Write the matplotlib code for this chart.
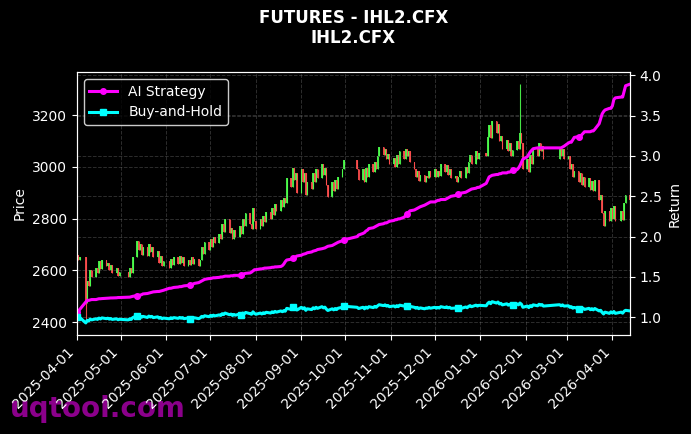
import numpy as np
import pandas as pd
import matplotlib
matplotlib.use('Agg')
import matplotlib.pyplot as plt
import matplotlib.dates as mdates

# trading calendar (CFFEX), 2025-04-01 .. 2026-04-13
holidays = ['2025-04-04', '2025-05-01', '2025-05-02', '2025-05-05', '2025-06-02',
            '2025-10-01', '2025-10-02', '2025-10-03', '2025-10-06', '2025-10-07',
            '2025-10-08', '2026-01-01', '2026-01-02', '2026-02-16', '2026-02-17',
            '2026-02-18', '2026-02-19', '2026-02-20', '2026-02-23', '2026-04-06']
dates = pd.bdate_range('2025-04-01', '2026-04-13', freq='C', holidays=holidays)

# daily closes, month by month
close_apr25 = [2660, 2640, 2650, 2475, 2560, 2540, 2600, 2575, 2610, 2590, 2635, 2605, 2640, 2615, 2630, 2600, 2620, 2590, 2610, 2580, 2595]
close_may25 = [2575, 2610, 2590, 2650, 2715, 2680, 2700, 2660, 2690, 2655, 2700, 2670, 2690, 2650, 2675, 2630, 2655, 2615, 2635]
close_jun25 = [2610, 2645, 2620, 2650, 2625, 2655, 2630, 2650, 2615, 2640, 2620, 2650, 2625, 2645, 2615, 2640, 2690, 2665, 2710, 2680]
close_jul25 = [2720, 2690, 2730, 2705, 2740, 2720, 2780, 2750, 2800, 2745, 2765, 2720, 2755, 2730, 2770, 2740, 2800, 2770, 2820, 2780, 2760, 2840, 2790]
close_aug25 = [2760, 2800, 2770, 2810, 2785, 2825, 2800, 2840, 2815, 2855, 2830, 2870, 2845, 2880, 2860, 2955, 2920, 2995, 2950, 2975, 2900]
close_sep25 = [2990, 2940, 2975, 2890, 2940, 2915, 2975, 2940, 2990, 2955, 3010, 2970, 2995, 2930, 2885, 2940, 2905, 2950, 2915, 2960, 2990, 3025]
close_oct25 = [2990, 2950, 2990, 2940, 2995, 2960, 3010, 2980, 3020, 2990, 3040, 3075, 3045, 3070, 3030, 3050, 3010]
close_nov25 = [3035, 3000, 3045, 3010, 3060, 3030, 3070, 3040, 3060, 3020, 2990, 2960, 2985, 2945, 2970, 2940, 2965, 2955, 2985, 2960]
close_dec25 = [2990, 2960, 2985, 2965, 3010, 2980, 3005, 2970, 2990, 2955, 2965, 2940, 2960, 2985, 2955, 3000, 2975, 3020, 3045, 3010, 3060, 3030, 3055]
close_jan26 = [3040, 3115, 3160, 3110, 3175, 3130, 3165, 3100, 3120, 3070, 3105, 3060, 3090, 3040, 3065, 3100, 3070, 3130, 3090, 2990]
close_feb26 = [3030, 2980, 3045, 3010, 3070, 3040, 3090, 3060, 3080, 3030, 3075, 3040, 3070, 3030]
close_mar26 = [3040, 2990, 3010, 2960, 2985, 2940, 2975, 2930, 2960, 2920, 2955, 2910, 2945, 2905, 2950, 2870, 2890, 2820, 2770, 2830, 2790, 2840]
close_apr26 = [2800, 2850, 2790, 2830, 2795, 2860, 2890, 2870]

# AI strategy cumulative return, month by month
ai_apr25 = [1.07, 1.08, 1.10, 1.19, 1.21, 1.21, 1.215, 1.22, 1.22, 1.225, 1.23, 1.23, 1.232, 1.235, 1.235, 1.238, 1.24, 1.24, 1.242, 1.245, 1.245]
ai_may25 = [1.25, 1.25, 1.255, 1.26, 1.27, 1.27, 1.275, 1.28, 1.29, 1.295, 1.30, 1.305, 1.31, 1.315, 1.32, 1.32, 1.325, 1.33, 1.335]
ai_jun25 = [1.36, 1.36, 1.365, 1.37, 1.375, 1.38, 1.38, 1.385, 1.39, 1.395, 1.40, 1.40, 1.41, 1.42, 1.43, 1.44, 1.45, 1.46, 1.47, 1.48]
ai_jul25 = [1.48, 1.485, 1.49, 1.49, 1.495, 1.50, 1.50, 1.505, 1.51, 1.51, 1.515, 1.515, 1.52, 1.52, 1.52, 1.53, 1.535, 1.54, 1.545, 1.55, 1.56, 1.575, 1.59]
ai_aug25 = [1.59, 1.60, 1.60, 1.605, 1.61, 1.61, 1.615, 1.62, 1.62, 1.625, 1.625, 1.63, 1.64, 1.66, 1.69, 1.71, 1.72, 1.73, 1.74, 1.75, 1.76]
ai_sep25 = [1.77, 1.78, 1.785, 1.79, 1.80, 1.81, 1.82, 1.825, 1.83, 1.84, 1.85, 1.855, 1.86, 1.87, 1.88, 1.89, 1.90, 1.91, 1.92, 1.93, 1.95, 1.96]
ai_oct25 = [2.00, 2.02, 2.04, 2.05, 2.07, 2.08, 2.10, 2.11, 2.12, 2.13, 2.14, 2.15, 2.16, 2.17, 2.17, 2.18, 2.19]
ai_nov25 = [2.20, 2.21, 2.21, 2.22, 2.22, 2.24, 2.26, 2.28, 2.30, 2.32, 2.33, 2.34, 2.35, 2.36, 2.37, 2.39, 2.40, 2.41, 2.42, 2.43]
ai_dec25 = [2.43, 2.44, 2.45, 2.45, 2.46, 2.46, 2.47, 2.48, 2.49, 2.50, 2.51, 2.52, 2.53, 2.53, 2.54, 2.55, 2.56, 2.57, 2.58, 2.59, 2.60, 2.61, 2.61]
ai_jan26 = [2.66, 2.70, 2.74, 2.75, 2.76, 2.77, 2.77, 2.78, 2.78, 2.79, 2.79, 2.80, 2.80, 2.81, 2.82, 2.83, 2.85, 2.88, 2.92, 2.96]
ai_feb26 = [2.99, 3.02, 3.05, 3.07, 3.09, 3.10, 3.10, 3.10, 3.10, 3.10, 3.10, 3.10, 3.11, 3.12]
ai_mar26 = [3.16, 3.17, 3.17, 3.20, 3.23, 3.24, 3.24, 3.26, 3.28, 3.30, 3.30, 3.30, 3.31, 3.31, 3.33, 3.40, 3.46, 3.52, 3.55, 3.57, 3.59, 3.59]
ai_apr26 = [3.62, 3.70, 3.72, 3.73, 3.73, 3.80, 3.87, 3.89]

# long wicks that stand out
wick_extremes = {'2025-04-07': 2405, '2026-01-28': 3320}

closes = np.array(close_apr25 + close_may25 + close_jun25 + close_jul25 + close_aug25 + close_sep25 +
                  close_oct25 + close_nov25 + close_dec25 + close_jan26 + close_feb26 + close_mar26 + close_apr26, dtype=float)
ai = np.array(ai_apr25 + ai_may25 + ai_jun25 + ai_jul25 + ai_aug25 + ai_sep25 +
              ai_oct25 + ai_nov25 + ai_dec25 + ai_jan26 + ai_feb26 + ai_mar26 + ai_apr26)
n = min(len(dates), len(closes), len(ai))
dates = dates[:n]
closes = closes[:n]
ai = ai[:n]

opens = np.concatenate([[2665.0], closes[:-1]])
highs = np.maximum(opens, closes)
lows = np.minimum(opens, closes)
for d, v in wick_extremes.items():
    i = dates.get_loc(pd.Timestamp(d))
    highs[i] = max(highs[i], v)
    lows[i] = min(lows[i], v)
bh = closes / closes[0]

fig = plt.figure(figsize=(6.91, 4.34), dpi=100, facecolor='black')
ax = fig.add_axes([0.1114, 0.228, 0.8003, 0.606])
ax.set_facecolor('black')

up = closes >= opens
cols = np.where(up, '#4dff4d', '#ff4d4d')
ax.vlines(dates, lows, highs, colors=cols, linewidth=0.8, alpha=0.9)
ax.bar(dates, np.maximum(np.abs(closes - opens), 2), bottom=np.minimum(opens, closes), width=1.1,
       color=cols, alpha=0.9, linewidth=0)
ax.set_ylim(2350, 3366)
ax.set_xlim(dates[0], dates[-1])
ax.set_ylabel('Price', color='white')

ax2 = ax.twinx()
ax2.plot(dates, ai, color='#ff00ff', linewidth=2.2, marker='o', markersize=4,
         markevery=25, label='AI Strategy')
ax2.plot(dates, bh, color='#00ffff', linewidth=2.2, marker='s', markersize=4,
         markevery=25, label='Buy-and-Hold')
ax2.set_ylim(0.78, 4.04)
ax2.set_ylabel('Return', color='white')

for a in (ax, ax2):
    a.tick_params(colors='white', labelsize=10)
    for s in a.spines.values():
        s.set_color('white')
    a.grid(True, linestyle='--', color='gray', alpha=0.35, linewidth=0.7)

ax.xaxis.set_major_locator(mdates.MonthLocator())
ax.xaxis.set_major_formatter(mdates.DateFormatter('%Y-%m-%d'))
plt.setp(ax.get_xticklabels(), rotation=45, ha='right')

leg = ax2.legend(loc='upper left', facecolor='black', edgecolor='white', fontsize=10)
for t in leg.get_texts():
    t.set_color('white')

fig.suptitle('FUTURES - IHL2.CFX\nIHL2.CFX', color='white', fontsize=12, fontweight='bold',
             x=0.5115, y=0.98)
fig.text(0.014, 0.058, 'uqtool.com', color='#8b008b', fontsize=20, fontweight='bold',
         va='center', ha='left', zorder=-1)

fig.savefig('out.png', dpi=100, facecolor='black')
